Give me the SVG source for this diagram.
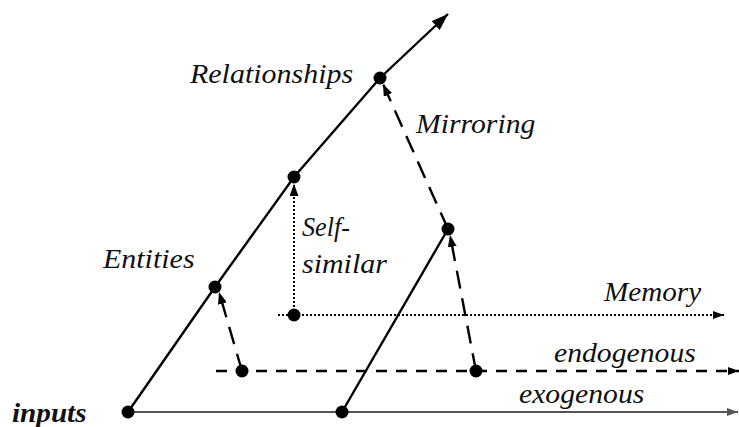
<svg xmlns="http://www.w3.org/2000/svg" width="739" height="427" viewBox="0 0 739 427">
<defs>
<style>
.lbl{fill:#111;font-family:'Liberation Serif',serif;font-style:italic;font-size:27px}
.solid{fill:none;stroke:#000;stroke-width:2.4}
.grey{fill:none;stroke:#555;stroke-width:2}
.dash{fill:none;stroke:#000;stroke-width:2.4;stroke-dasharray:11 9}
.ldash{fill:none;stroke:#000;stroke-width:2.4;stroke-dasharray:18 10}
.dot{fill:none;stroke:#000;stroke-width:2;stroke-dasharray:2 2}
.node{fill:#000}
</style>
<marker id="big" viewBox="0 0 17 12" refX="17" refY="6" markerWidth="17" markerHeight="12" markerUnits="userSpaceOnUse" orient="auto">
<path d="M0,0 L17,6 L0,12 Z" fill="#000"/>
</marker>
<marker id="ah" viewBox="0 0 12 9" refX="12" refY="4.5" markerWidth="12" markerHeight="9" markerUnits="userSpaceOnUse" orient="auto">
<path d="M0,0 L12,4.5 L0,9 Z" fill="#000"/>
</marker>
<marker id="ahs" viewBox="0 0 11 8" refX="11" refY="4" markerWidth="11" markerHeight="8" markerUnits="userSpaceOnUse" orient="auto">
<path d="M0,0 L11,4 L0,8 Z" fill="#000"/>
</marker>
<marker id="ahg" viewBox="0 0 11 8" refX="11" refY="4" markerWidth="11" markerHeight="8" markerUnits="userSpaceOnUse" orient="auto">
<path d="M0,0 L11,4 L0,8 Z" fill="#555"/>
</marker>
</defs>
<g id="connectors">
<polyline class="solid" points="128,412 215,287 294,177 380,78 448,14" marker-end="url(#big)"/>
<line class="solid" x1="342" y1="412" x2="448" y2="229"/>
<line class="grey" x1="128" y1="412" x2="738" y2="412" marker-end="url(#ahg)"/>
<line class="dash" x1="216" y1="371" x2="739" y2="371" marker-end="url(#ahs)"/>
<line class="dot" x1="278" y1="315" x2="724" y2="315" marker-end="url(#ahs)"/>
<line class="ldash" x1="242" y1="371" x2="219" y2="292" marker-end="url(#ah)"/>
<line class="dot" x1="294" y1="315" x2="294" y2="184" marker-end="url(#ah)"/>
<line class="ldash" x1="476" y1="371" x2="450" y2="235" marker-end="url(#ah)"/>
<line class="ldash" x1="448" y1="229" x2="383" y2="84" marker-end="url(#ah)"/>
</g>
<g id="n-inputs"><circle class="node" cx="128" cy="412" r="6.5"/><text class="lbl" font-weight="bold" transform="translate(12,422) scale(1.08,1)">inputs</text></g>
<g id="n-exo2"><circle class="node" cx="342" cy="412" r="6.5"/></g>
<g id="n-endo1"><circle class="node" cx="242" cy="371" r="6.5"/></g>
<g id="n-endo2"><circle class="node" cx="476" cy="371" r="6.5"/></g>
<g id="n-memory"><circle class="node" cx="294" cy="315" r="6.5"/></g>
<g id="n-entities"><circle class="node" cx="215" cy="287" r="6.5"/><text class="lbl" transform="translate(103,268) scale(1.11,1)">Entities</text></g>
<g id="n-self"><circle class="node" cx="294" cy="177" r="6.5"/></g>
<g id="n-mirror"><circle class="node" cx="448" cy="229" r="6.5"/></g>
<g id="n-relationships"><circle class="node" cx="380" cy="78" r="6.5"/><text class="lbl" transform="translate(190,83) scale(1.11,1)">Relationships</text></g>
<g id="labels">
<text class="lbl" transform="translate(416,133) scale(1.1,1)">Mirroring</text>
<text class="lbl" transform="translate(302,236) scale(0.97,1)">Self-</text>
<text class="lbl" transform="translate(302,273) scale(1.11,1)">similar</text>
<text class="lbl" transform="translate(604,301) scale(1.08,1)">Memory</text>
<text class="lbl" transform="translate(554,362) scale(1.1,1)">endogenous</text>
<text class="lbl" transform="translate(519,403) scale(1.1,1)">exogenous</text>
</g>
</svg>
